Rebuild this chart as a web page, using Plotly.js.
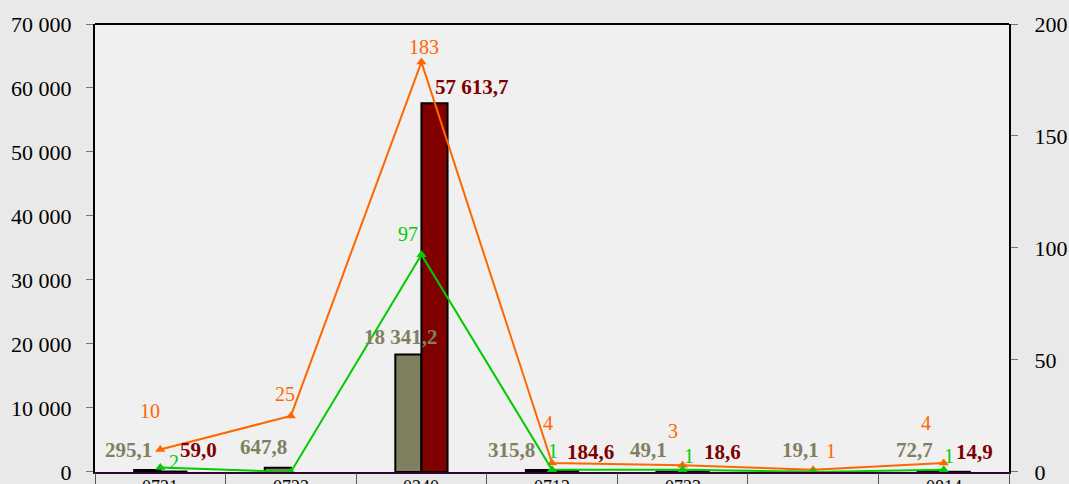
<!DOCTYPE html>
<html>
<head>
<meta charset="utf-8">
<script src="https://cdn.plot.ly/plotly-3.0.1.min.js"></script>
<style>html,body{margin:0;padding:0;background:#e9e9e9;}#chart{width:1069px;height:484px;}</style>
</head>
<body>
<div id="chart"></div>
<script>
// ---- data ----
const categories = ["0721", "0722", "0240", "0712", "0723", "", "0814"];
const seriesOlive = [295.1, 647.8, 18341.2, 315.8, 49.1, 19.1, 72.7];
const seriesRed = [59.0, null, 57613.7, 184.6, 18.6, null, 14.9];
const seriesOrange = [10, 25, 183, 4, 3, 1, 4];
const seriesGreen = [2, 0, 97, 1, 1, 0, 1];
const leftTicks = [0, 10000, 20000, 30000, 40000, 50000, 60000, 70000];
const rightTicks = [0, 50, 100, 150, 200];

// ---- label placement (styling offsets in px) ----
const oliveShift = [[-32,20],[-27,21],[-20,18],[-41,20],[-34,22],[-13,22],[-29,21]];
const redShift   = [[38,22],null,[51,16],[38,19],[40,20],null,[31,20]];
const orangeShift= [[-10,39],[-6,22],[3,15],[-4,40],[-10,34],[18,19],[-18,40]];
const greenShift = [[14,5],null,[-13,21],[1,19],[6,14],null,[5,14]];

const idx = categories.map((c, i) => i);
const serif = "Liberation Serif, Times New Roman, serif";
const fmt = v => {
  const s = v.toFixed(1).split(".");
  const intPart = s[0].replace(/\B(?=(\d{3})+(?!\d))/g, " ");
  return intPart + "," + s[1];
};

const traces = [
  {type: "bar", x: idx, y: seriesOlive, name: "olive", marker: {color: "#808060", line: {color: "#000", width: 2}}, xaxis: "x", yaxis: "y", hoverinfo: "none"},
  {type: "bar", x: idx, y: seriesRed, name: "red", marker: {color: "#800000", line: {color: "#000", width: 2}}, xaxis: "x", yaxis: "y", hoverinfo: "none"},
  {type: "scatter", mode: "lines+markers", x: idx, y: seriesOrange, yaxis: "y2", line: {color: "#ff6600", width: 2}, marker: {symbol: "triangle-up", size: 9, color: "#ff6600"}, hoverinfo: "none"},
  {type: "scatter", mode: "lines+markers", x: idx, y: seriesGreen, yaxis: "y2", line: {color: "#00cc00", width: 2}, marker: {symbol: "triangle-up", size: 9, color: "#00cc00"}, hoverinfo: "none"},
  {type: "scatter", mode: "none", x: [-0.5, 6.5], y: [0, 0], xaxis: "x2", yaxis: "y", hoverinfo: "none", showlegend: false}
];

const annotations = [];
function addLabels(vals, shifts, yref, color, bold, textFn) {
  vals.forEach((v, i) => {
    if (v === null || shifts[i] === null) return;
    annotations.push({
      x: i, y: v, xref: "x", yref: yref, showarrow: false,
      xshift: shifts[i][0], yshift: shifts[i][1],
      text: bold ? "<b>" + textFn(v) + "</b>" : textFn(v),
      font: {family: serif, size: bold ? 21 : 20, color: color},
      xanchor: "center", yanchor: "middle"
    });
  });
}
addLabels(seriesOlive, oliveShift, "y", "#808060", true, fmt);
addLabels(seriesRed, redShift, "y", "#800000", true, fmt);
addLabels(seriesOrange, orangeShift, "y2", "#ff6600", false, v => String(v));
addLabels(seriesGreen, greenShift, "y2", "#00cc00", false, v => String(v));
// category labels (the reference crops them at the bottom edge)
categories.forEach((c, i) => {
  if (!c) return;
  annotations.push({
    x: i, y: 0, xref: "x", yref: "paper", showarrow: false, yshift: -3,
    xanchor: "center", yanchor: "top", text: c,
    font: {family: serif, size: 18, color: "#000"}
  });
});

const layout = {
  width: 1069, height: 484,
  margin: {l: 95, r: 60, t: 24, b: 12, pad: 0},
  paper_bgcolor: "#e9e9e9",
  plot_bgcolor: "#f0f0f0",
  separators: ", ",
  showlegend: false,
  barmode: "group",
  bargap: 0.6,
  bargroupgap: 0,
  font: {family: serif, color: "#000"},
  xaxis: {
    range: [-0.5, 6.5], tickvals: idx, ticktext: categories,
    showticklabels: false,
    showgrid: false, zeroline: false, ticks: "",
    showline: true, linecolor: "#330033", linewidth: 2
  },
  xaxis2: {
    overlaying: "x", anchor: "y", range: [-0.5, 6.5],
    tickvals: [-0.5, 0.5, 1.5, 2.5, 3.5, 4.5, 5.5, 6.5],
    showticklabels: false, ticks: "outside", ticklen: 20, tickwidth: 1, tickcolor: "#555",
    showgrid: false, zeroline: false, showline: false
  },
  yaxis: {
    range: [-15, 70000], tickvals: leftTicks, tickformat: ",d",
    showgrid: false, zeroline: false,
    showline: true, linecolor: "#000", linewidth: 2,
    ticks: "outside", ticklen: 7, tickwidth: 1, tickcolor: "#777",
    ticklabelstandoff: 10, ticklabeloverflow: "allow",
    tickfont: {family: serif, size: 22, color: "#000"}
  },
  yaxis2: {
    overlaying: "y", side: "right", range: [-0.043, 200], tickvals: rightTicks,
    showgrid: false, zeroline: false,
    showline: true, linecolor: "#000", linewidth: 2,
    ticks: "outside", ticklen: 7, tickwidth: 1, tickcolor: "#777",
    ticklabelstandoff: 12, ticklabeloverflow: "allow",
    tickfont: {family: serif, size: 22, color: "#000"}
  },
  shapes: [
    {type: "line", xref: "paper", yref: "paper", x0: 0, x1: 1, y0: 1, y1: 1, line: {color: "#000", width: 2}}
  ],
  annotations: annotations
};

Plotly.newPlot("chart", traces, layout, {staticPlot: true, displayModeBar: false});
</script>
</body>
</html>
